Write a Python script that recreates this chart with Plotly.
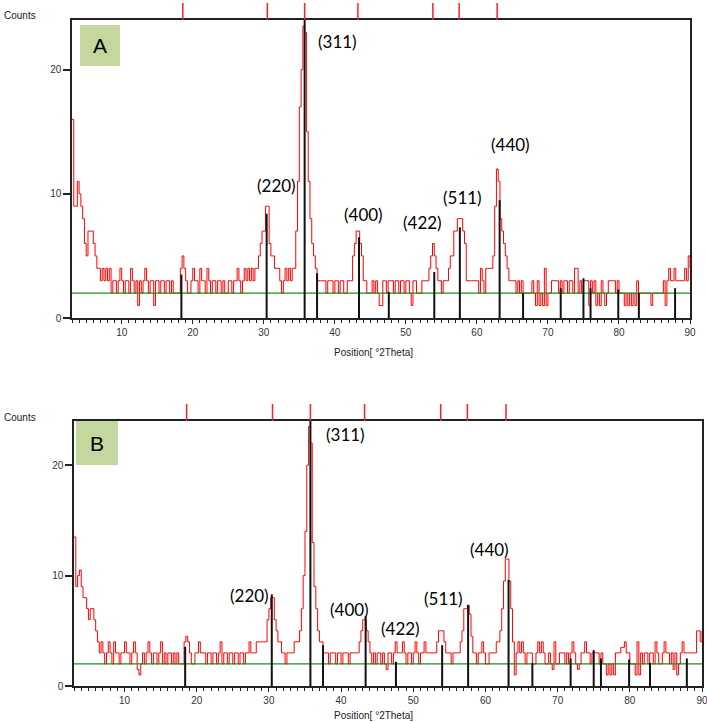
import numpy as np
import plotly.graph_objects as go

# 2theta grid of the scans (0.25 deg step, 3..90)
theta = np.arange(3.0, 90.001, 0.25)

# counts, one row per 5 degrees
counts_a = [
    16, 9, 9, 11, 10, 9, 8, 6, 5, 7, 7, 7, 6, 5, 4, 4, 3, 4, 3, 4,
    3, 4, 2, 3, 3, 2, 3, 4, 3, 2, 3, 3, 2, 4, 3, 2, 3, 1, 3, 2,
    3, 4, 3, 2, 3, 3, 1, 3, 3, 2, 3, 3, 2, 3, 3, 2, 3, 2, 2, 2,
    2, 4, 5, 4, 3, 2, 2, 3, 4, 3, 3, 2, 4, 3, 3, 2, 4, 3, 2, 3,
    3, 2, 3, 3, 2, 3, 2, 2, 3, 3, 2, 3, 3, 4, 3, 2, 3, 4, 3, 4,
    3, 4, 3, 4, 4, 5, 6, 7, 7, 9, 9, 6, 5, 5, 4, 4, 4, 3, 2, 3,
    4, 3, 4, 3, 4, 4, 7, 11, 17, 20, 23.5, 23, 15, 11, 8, 6, 5, 4, 3, 3,
    3, 3, 3, 2, 3, 3, 3, 2, 3, 3, 2, 3, 3, 2, 2, 3, 3, 3, 5, 6,
    7, 7, 6, 5, 3, 3, 2, 2, 2, 3, 2, 3, 2, 1, 1, 3, 3, 2, 3, 3,
    3, 2, 3, 3, 2, 3, 3, 2, 3, 3, 2, 1, 3, 3, 2, 2, 2, 3, 3, 3,
    3, 4, 5, 6, 5, 4, 3, 3, 2, 3, 3, 3, 4, 5, 5, 7, 7, 8, 8, 8,
    7, 6, 3, 3, 3, 3, 3, 3, 3, 2, 4, 3, 2, 4, 4, 4, 4, 5, 9, 12,
    11, 8, 7, 6, 5, 4, 3, 3, 3, 3, 2, 3, 2, 3, 2, 2, 2, 2, 2, 3,
    2, 1, 3, 1, 2, 1, 4, 1, 2, 2, 3, 3, 3, 3, 2, 3, 2, 3, 3, 2,
    3, 3, 2, 4, 4, 2, 3, 2, 3, 3, 3, 1, 3, 2, 3, 1, 2, 1, 3, 2,
    1, 2, 3, 3, 3, 3, 2, 3, 2, 2, 2, 1, 2, 1, 2, 1, 2, 1, 3, 2,
    2, 2, 2, 2, 2, 2, 1, 2, 2, 2, 2, 2, 2, 3, 1, 3, 4, 3, 3, 4,
    3, 3, 3, 3, 3, 4, 3, 5, 4,
]

# counts
counts_b = [
    13.5, 9, 10, 10.5, 9, 8, 8, 7, 6, 7, 7, 6, 5, 4, 3, 4, 3, 2, 3, 4,
    3, 2, 4, 3, 3, 2, 3, 3, 4, 3, 3, 2, 3, 4, 3, 1.5, 1, 2, 3, 2,
    3, 4, 3, 2, 3, 3, 2, 3, 4, 2, 3, 2, 3, 3, 2, 3, 2, 3, 2, 2,
    2, 4, 4.5, 4, 3, 2, 2, 3, 3, 4, 3, 3, 3, 2, 3, 3, 2, 3, 3, 2,
    3, 4, 2, 3, 3, 2, 3, 3, 2, 3, 3, 2, 3, 3, 2, 3, 3, 4, 3, 3,
    3, 4, 4, 4, 4, 4, 4, 6, 7, 8, 8, 6, 5, 4, 4, 3, 3, 2, 3, 3,
    3, 3, 4, 4, 4, 5, 7, 10, 14, 20, 23.5, 22, 13, 9, 7, 5, 4, 4, 3, 3,
    3, 2, 3, 3, 3, 2, 3, 3, 2, 3, 3, 3, 2, 3, 3, 3, 3, 3, 4, 5,
    6, 6, 5, 4, 3, 2, 3, 2, 3, 3, 2, 3, 2, 1.5, 3, 3, 2, 3, 4, 3,
    3, 3, 4, 3, 2, 3, 3, 2, 3, 4, 3, 2, 3, 3, 4, 3, 3, 3, 3, 3,
    3, 4, 5, 5, 5, 4, 3, 3, 3, 2, 3, 3, 3, 3, 4, 5, 7, 7, 7.3, 6.5,
    4.5, 3, 3, 2, 3, 3, 4, 3, 2, 2, 3, 3, 3, 3, 4, 4, 5, 7, 9.5, 11.5,
    11.5, 9.5, 7, 4, 1, 3, 4, 3, 4, 3, 2, 3, 3, 3, 2, 2, 3, 4, 3, 4,
    3, 2, 2, 3, 2, 1.5, 4, 2, 2, 3, 3, 3, 2, 3, 2, 3, 4, 3, 2, 1.5,
    2, 3, 3, 4, 3, 3, 2, 3, 3, 3, 3, 2, 3, 2, 2, 1, 2, 1, 2, 1,
    3, 3, 3, 3.5, 3.5, 4, 3, 3, 2, 2, 2, 1, 4, 1, 3, 2, 3, 3, 2, 3,
    3, 2, 4, 3, 2, 2, 3, 4, 3, 3, 2, 3, 1.5, 3, 1, 2, 3, 4, 3, 3,
    3, 3, 3, 3, 3, 5, 5, 4, 5,
]

background = 2

# reference pattern sticks
stick_pos = [18.4, 30.4, 35.75, 37.5, 43.4, 47.6, 54.0, 57.6, 63.2, 66.5,
             71.8, 75.0, 76.0, 79.9, 82.8, 87.9]
stick_a = [3.5, 8.4, 24, 3.6, 6.5, 2.1, 3.7, 7.3, 9.5, 2.0, 2.4, 3.2, 2.4, 2.3, 2.0, 2.4]
stick_b = [3.55, 8.3, 24, 3.7, 6.3, 2.2, 3.7, 7.35, 9.6, 2.1, 2.5, 3.25, 2.5, 2.4, 2.1, 2.5]

# peak list markers above the frame
peak_pos = [18.6, 30.5, 35.75, 43.25, 53.8, 57.5, 62.85]

# hkl labels (x in 2theta, y in counts)
hkl = ["(311)", "(220)", "(400)", "(422)", "(511)", "(440)"]
hkl_a_x = [40.4, 31.85, 44.05, 52.3, 57.95, 64.8]
hkl_a_y = [22.3, 10.7, 8.35, 7.7, 9.7, 14.0]
hkl_b_x = [40.6, 27.3, 41.1, 48.25, 54.25, 60.5]
hkl_b_y = [22.8, 8.2, 6.9, 5.2, 7.95, 12.35]

W, H = 707, 722
# panel boxes in pixels: left, right, top, bottom
panels = [
    dict(box=(72, 690, 20, 318), counts=counts_a, sticks=stick_a, lx=hkl_a_x, ly=hkl_a_y,
         tag="A", tagbox=(80, 120, 25, 66), title_dy=34, counts_dy=5),
    dict(box=(74, 702, 421, 686), counts=counts_b, sticks=stick_b, lx=hkl_b_x, ly=hkl_b_y,
         tag="B", tagbox=(76, 118, 421, 465), title_dy=29, counts_dy=4),
]

def px(x):
    return x / W

def py(y):
    return 1 - y / H

fig = go.Figure()
shapes = []
annotations = []
tickfont = dict(family="Liberation Sans, Arial", size=10, color="#333333")

for i, p in enumerate(panels):
    n = "" if i == 0 else str(i + 1)
    xa, ya = "x" + n, "y" + n
    l, r, t, b = p["box"]

    fig.add_trace(go.Scatter(x=theta, y=p["counts"], mode="lines", line_shape="hv",
                             line=dict(color="#ff0000", width=1), xaxis=xa, yaxis=ya))
    fig.add_trace(go.Scatter(x=[3, 90], y=[background, background], mode="lines",
                             line=dict(color="#1f8a1f", width=1.2), xaxis=xa, yaxis=ya))
    sx, sy = [], []
    for pos, h in zip(stick_pos, p["sticks"]):
        sx += [pos, pos, None]
        sy += [0, h, None]
    fig.add_trace(go.Scatter(x=sx, y=sy, mode="lines", line=dict(color="#111111", width=2),
                             xaxis=xa, yaxis=ya))

    fig.layout["xaxis" + n] = dict(
        domain=[px(l), px(r)], anchor=ya, range=[3, 90], tickvals=list(range(10, 91, 10)),
        ticks="outside", ticklen=4, tickwidth=1, tickcolor="#222",
        minor=dict(dtick=1, ticks="outside", ticklen=3, tickcolor="#222", tick0=0),
        showline=True, linecolor="#222", linewidth=1.5, mirror=True, automargin=False,
        ticklabeloverflow="allow",
        showgrid=False, zeroline=False, tickfont=tickfont)
    fig.layout["yaxis" + n] = dict(
        domain=[py(b), py(t)], anchor=xa, range=[0, 24], tickvals=[0, 10, 20],
        ticks="outside", ticklen=7, tickwidth=1.5, tickcolor="#222", automargin=False,
        showline=True, linecolor="#222", linewidth=1.5, mirror=True,
        showgrid=False, zeroline=False, tickfont=tickfont)

    for pos in peak_pos:
        shapes.append(dict(type="line", xref=xa, yref="paper", x0=pos, x1=pos,
                           y0=py(t), y1=py(t - 17), line=dict(color="#ff2020", width=1.5)))
    tl, tr, tt, tb = p["tagbox"]
    shapes.append(dict(type="rect", xref="paper", yref="paper", x0=px(tl), x1=px(tr),
                       y0=py(tb), y1=py(tt), fillcolor="#c4d79e", line=dict(width=0),
                       layer="above"))
    annotations.append(dict(xref="paper", yref="paper", x=px((tl + tr) / 2), y=py((tt + tb) / 2),
                            xanchor="center", yanchor="middle", text=p["tag"], showarrow=False,
                            font=dict(family="Liberation Sans, Arial", size=21, color="black")))
    for txt, lx, ly in zip(hkl, p["lx"], p["ly"]):
        annotations.append(dict(xref=xa, yref=ya, x=lx, y=ly, text=txt, showarrow=False,
                                xanchor="center", yanchor="middle",
                                font=dict(family="Lato", size=17, color="black")))
    annotations.append(dict(xref="paper", yref="paper", x=px(2), y=py(t - p["counts_dy"]),
                            text="Counts", showarrow=False, xanchor="left", yanchor="middle",
                            font=dict(family="Liberation Sans, Arial", size=10, color="#222")))
    annotations.append(dict(xref="paper", yref="paper", x=px(374), y=py(b + p["title_dy"]),
                            text="Position[ °2Theta]", showarrow=False,
                            xanchor="center", yanchor="middle",
                            font=dict(family="Liberation Sans, Arial", size=10, color="#222")))

fig.update_layout(width=W, height=H, margin=dict(l=0, r=0, t=0, b=0),
                  paper_bgcolor="white", plot_bgcolor="white", showlegend=False,
                  shapes=shapes, annotations=annotations)
# the page body has a default margin; drop it so the figure fills the window
fig.write_html("out.html", config={"displayModeBar": False},
               post_script="document.body.style.margin='0';")
